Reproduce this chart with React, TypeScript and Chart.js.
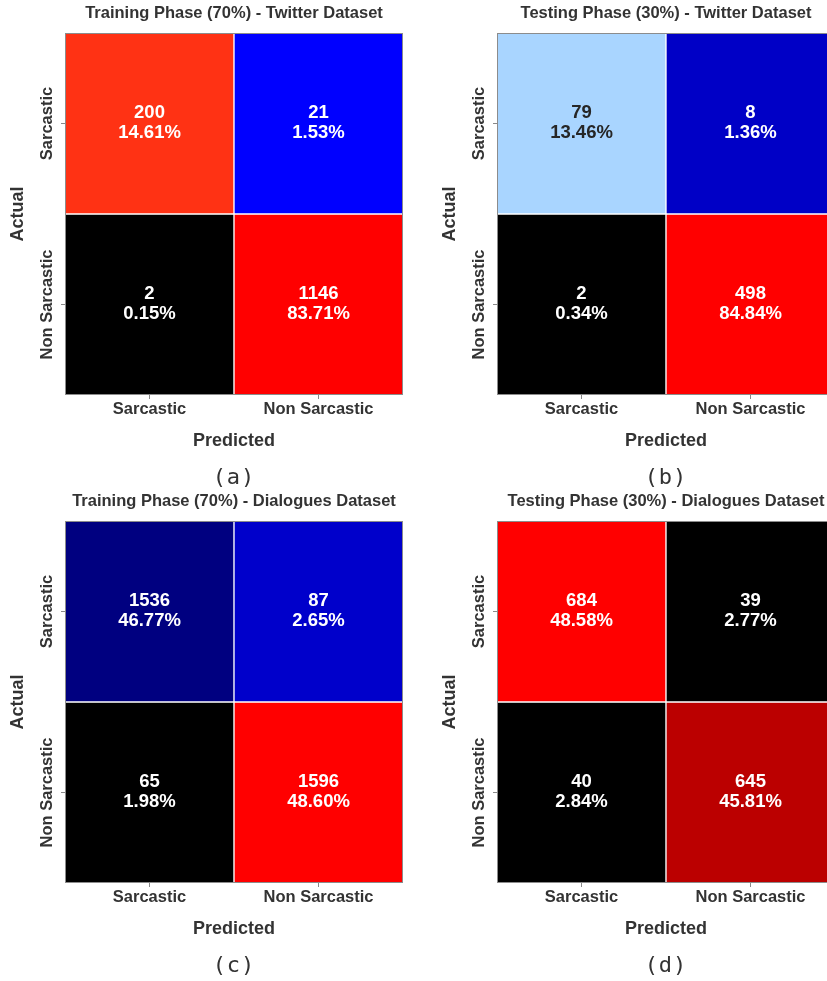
import React, { useEffect, useRef } from "react";
import { Chart, registerables } from "chart.js";

Chart.register(...registerables);

// ---------- data ----------
const categories = ["Sarcastic", "Non Sarcastic"];
const panelTitles = [
  "Training Phase (70%) - Twitter Dataset",
  "Testing Phase (30%) - Twitter Dataset",
  "Training Phase (70%) - Dialogues Dataset",
  "Testing Phase (30%) - Dialogues Dataset",
];
const panelLetters = ["(a)", "(b)", "(c)", "(d)"];
// row-major: [actual S / pred S, actual S / pred NS, actual NS / pred S, actual NS / pred NS]
const twitterTrainCounts = [200, 21, 2, 1146];
const twitterTestCounts = [79, 8, 2, 498];
const dialoguesTrainCounts = [1536, 87, 65, 1596];
const dialoguesTestCounts = [684, 39, 40, 645];
const panelCounts = [twitterTrainCounts, twitterTestCounts, dialoguesTrainCounts, dialoguesTestCounts];

// ---------- styles ----------
const twitterTrainColors = ["#ff3214", "#0000ff", "#000000", "#ff0000"];
const twitterTestColors = ["#a9d5ff", "#0000c6", "#000000", "#ff0000"];
const dialoguesTrainColors = ["#000080", "#0000cb", "#000000", "#ff0000"];
const dialoguesTestColors = ["#ff0000", "#000000", "#000000", "#bb0000"];
const panelColors = [twitterTrainColors, twitterTestColors, dialoguesTrainColors, dialoguesTestColors];

const FONT = "'Liberation Sans', Arial, Helvetica, sans-serif";
const TEXT = "#333333";
const CW = 430;
const CH = 490;

function isLight(hex: string) {
  const n = parseInt(hex.slice(1), 16);
  const r = (n >> 16) & 255, g = (n >> 8) & 255, b = n & 255;
  return 0.299 * r + 0.587 * g + 0.114 * b > 150;
}

function Panel({ idx, left, top }: { idx: number; left: number; top: number }) {
  const ref = useRef<HTMLCanvasElement>(null);
  useEffect(() => {
    const counts = panelCounts[idx];
    const colors = panelColors[idx];
    const total = counts.reduce((a, b) => a + b, 0);
    const datasets = categories.map((rowName, r) => ({
      label: rowName,
      data: categories.map(() => [r, r + 1]),
      backgroundColor: categories.map((_, c) => colors[r * 2 + c]),
      borderColor: "#ffffff",
      borderWidth: 1,
      borderSkipped: false,
      barPercentage: 1,
      categoryPercentage: 1,
      grouped: false,
    }));
    const textPlugin = {
      id: "cmText",
      afterDraw(chart: any) {
        const ctx = chart.ctx;
        const { left: l, right: rr, top: t, bottom: b } = chart.chartArea;
        const xs = chart.scales.x;
        const ys = chart.scales.y;
        ctx.save();
        ctx.strokeStyle = "#8c8c8c";
        ctx.lineWidth = 1;
        ctx.strokeRect(l + 0.5, t + 0.5, rr - l - 1, b - t - 1);
        ctx.textAlign = "center";
        ctx.textBaseline = "middle";
        ctx.font = `bold 18.5px ${FONT}`;
        categories.forEach((_, r) =>
          categories.forEach((__, c) => {
            const v = counts[r * 2 + c];
            const cx = xs.getPixelForValue(c);
            const cy = ys.getPixelForValue(r + 0.5);
            ctx.fillStyle = isLight(colors[r * 2 + c]) ? "#262626" : "#ffffff";
            ctx.fillText(String(v), cx, cy - 11);
            ctx.fillText(`${((v / total) * 100).toFixed(2)}%`, cx, cy + 9);
          })
        );
        ctx.fillStyle = TEXT;
        ctx.font = `bold 16.5px ${FONT}`;
        ys.ticks.forEach((tk: any, i: number) => {
          const py = ys.getPixelForValue(tk.value);
          ctx.save();
          ctx.translate(l - 18, py);
          ctx.rotate(-Math.PI / 2);
          ctx.fillText(categories[i], 0, 0);
          ctx.restore();
        });
        ctx.fillText(panelTitles[idx], (l + rr) / 2, t - 20);
        ctx.restore();
      },
    };
    const chart = new Chart(ref.current as HTMLCanvasElement, {
      type: "bar",
      data: { labels: categories, datasets: datasets as any },
      options: {
        responsive: false,
        maintainAspectRatio: false,
        animation: false,
        devicePixelRatio: 1,
        layout: { padding: { top: 33, left: 0, right: CW - 403, bottom: 38 } },
        plugins: { legend: { display: false }, tooltip: { enabled: false } },
        scales: {
          x: {
            type: "category",
            offset: true,
            grid: { drawOnChartArea: false, offset: false, tickLength: 4, color: "#888888" },
            border: { display: false },
            ticks: { font: { family: FONT, size: 16.5, weight: "bold" }, color: TEXT, padding: 1, maxRotation: 0, minRotation: 0 },
            title: { display: true, text: "Predicted", font: { family: FONT, size: 18, weight: "bold" }, color: TEXT, padding: 0 },
            afterFit: (s: any) => { s.height = 57; },
          },
          y: {
            type: "linear",
            min: 0,
            max: 2,
            reverse: true,
            afterBuildTicks: (s: any) => { s.ticks = categories.map((_, i) => ({ value: i + 0.5 })); },
            grid: { drawOnChartArea: false, tickLength: 4, color: "#888888" },
            border: { display: false },
            ticks: { display: false },
            title: { display: true, text: "Actual", font: { family: FONT, size: 18, weight: "bold" }, color: TEXT, padding: { top: 7, bottom: 0 } },
            afterFit: (s: any) => { s.width = 65; },
          },
        },
      } as any,
      plugins: [textPlugin],
    });
    return () => chart.destroy();
  }, [idx]);
  return (
    <>
      <canvas
        ref={ref}
        width={CW}
        height={CH}
        style={{ position: "absolute", left, top, width: CW, height: CH, display: "block" }}
      />
      <div
        style={{
          position: "absolute",
          left: left + 234 - 50,
          top: top + 465,
          width: 100,
          textAlign: "center",
          fontFamily: "'DejaVu Sans Mono', monospace",
          fontSize: 22,
          lineHeight: "24px",
          letterSpacing: 1,
          color: TEXT,
        }}
      >
        {panelLetters[idx]}
      </div>
    </>
  );
}

export default function App() {
  return (
    <div
      style={{
        position: "absolute",
        left: 0,
        top: 0,
        width: 827,
        height: 981,
        overflow: "hidden",
        background: "#ffffff",
      }}
    >
      <Panel idx={0} left={0} top={0} />
      <Panel idx={1} left={432} top={0} />
      <Panel idx={2} left={0} top={488} />
      <Panel idx={3} left={432} top={488} />
    </div>
  );
}
